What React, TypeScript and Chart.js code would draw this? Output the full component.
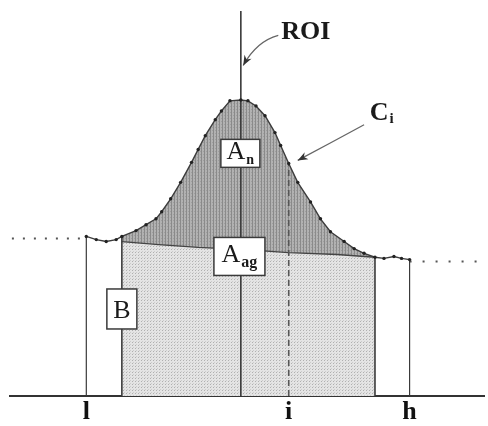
import React, { useEffect, useRef } from "react";
import { Chart, registerables } from "chart.js";

Chart.register(...registerables);

// Profile curve C_i (channel position, intensity)
const curveX = [16.1, 18.2, 20.3, 22.4, 23.6, 26.6, 28.7, 30.8, 32.0, 33.9, 36.0, 38.3, 39.7, 41.2, 43.3, 44.6, 46.4, 48.7, 50.2, 51.9, 53.8, 55.9, 57.1, 58.8, 60.7, 63.4, 65.5, 67.6, 70.5, 72.6, 74.7, 77.0, 78.9, 81.0, 82.6, 84.3];
const curveY = [40.7, 39.9, 39.4, 39.9, 40.7, 42.2, 43.7, 45.2, 47.0, 50.3, 54.5, 59.6, 62.9, 66.4, 70.5, 72.7, 75.3, 75.5, 75.3, 74.0, 71.5, 67.2, 63.9, 59.3, 54.5, 49.5, 45.2, 41.9, 39.4, 37.6, 36.4, 35.4, 35.1, 35.6, 35.1, 34.8];

// Background (A_ag top)
const bgX = [23.6, 31.4, 39.7, 48.7, 58.8, 69.0, 77.0];
const bgY = [39.4, 38.6, 37.9, 37.4, 36.6, 36.1, 35.4];

// Key positions
const posL = 16.1;
const posLow = 23.6;
const posROI = 48.7;
const posI = 58.8;
const posHigh = 77.0;
const posH = 84.3;
const roiTop = 98.2;

// Outside baseline levels (dotted)
const leftDotX = [0.4, 16.1];
const leftDotY = [40.2, 40.2];
const rightDotX = [84.3, 100];
const rightDotY = [34.3, 34.3];

// Tick labels
const tickValues = [posL, posI, posH];
const tickLabels = ["l", "i", "h"];

const SERIF = "'Liberation Serif', 'DejaVu Serif', serif";

function valAt(xs: number[], ys: number[], x: number) {
  const i = xs.indexOf(x);
  return ys[i];
}

function makePattern(kind: "dark" | "light") {
  const c = document.createElement("canvas");
  c.width = 3;
  c.height = 3;
  const g = c.getContext("2d")!;
  if (kind === "dark") {
    g.fillStyle = "#b2b2b2";
    g.fillRect(0, 0, 3, 3);
    g.fillStyle = "#8a8a8a";
    g.fillRect(0, 0, 1, 3);
    g.fillStyle = "#9e9e9e";
    g.fillRect(2, 1, 1, 1);
  } else {
    g.fillStyle = "#e4e4e4";
    g.fillRect(0, 0, 3, 3);
    g.fillStyle = "#b0b0b0";
    g.fillRect(0, 0, 1, 1);
    g.fillStyle = "#cccccc";
    g.fillRect(1, 2, 1, 1);
  }
  return g.createPattern(c, "repeat")!;
}

function vline(x: number, top: number, color: string, width: number, dash: number[] = []) {
  return {
    data: [
      { x, y: 0 },
      { x, y: top },
    ],
    borderColor: color,
    borderWidth: width,
    borderDash: dash,
    pointRadius: 0,
    fill: false,
    order: 2,
  };
}

const boxes = [
  { main: "A", sub: "n", x: 48.6, y: 61.9, w: 39, h: 28, mainSize: 26, subSize: 14 },
  { main: "A", sub: "ag", x: 48.4, y: 35.6, w: 51, h: 38, mainSize: 26, subSize: 16 },
  { main: "B", sub: "", x: 23.6, y: 22.2, w: 30, h: 40, mainSize: 26, subSize: 14 },
];

const overlayPlugin = {
  id: "overlay",
  afterDatasetsDraw(chart: any) {
    const { ctx, scales } = chart;
    const px = (v: number) => scales.x.getPixelForValue(v);
    const py = (v: number) => scales.y.getPixelForValue(v);
    ctx.save();

    // boxes
    for (const b of boxes) {
      const cx = px(b.x);
      const cy = py(b.y);
      ctx.fillStyle = "#ffffff";
      ctx.fillRect(cx - b.w / 2, cy - b.h / 2, b.w, b.h);
      ctx.strokeStyle = "#3a3a3a";
      ctx.lineWidth = 1.5;
      ctx.strokeRect(cx - b.w / 2, cy - b.h / 2, b.w, b.h);
      ctx.font = `${b.mainSize}px ${SERIF}`;
      const mw = ctx.measureText(b.main).width;
      ctx.font = `bold ${b.subSize}px ${SERIF}`;
      const sw = b.sub ? ctx.measureText(b.sub).width + 1 : 0;
      const sx = cx - (mw + sw) / 2;
      const base = cy + b.mainSize * 0.33 - (b.sub ? 3 : 0);
      ctx.fillStyle = "#1a1a1a";
      ctx.textBaseline = "alphabetic";
      ctx.textAlign = "left";
      ctx.font = `${b.mainSize}px ${SERIF}`;
      ctx.fillText(b.main, sx, base);
      if (b.sub) {
        ctx.font = `bold ${b.subSize}px ${SERIF}`;
        ctx.fillText(b.sub, sx + mw + 1, base + 5);
      }
    }

    // ROI label and curved arrow
    ctx.fillStyle = "#1a1a1a";
    ctx.font = `bold 26px ${SERIF}`;
    ctx.textBaseline = "middle";
    ctx.textAlign = "left";
    ctx.fillText("ROI", px(57.2), py(92.9));

    const drawArrow = (x0: number, y0: number, cx: number, cy: number, x1: number, y1: number) => {
      ctx.strokeStyle = "#666";
      ctx.lineWidth = 1.3;
      ctx.beginPath();
      ctx.moveTo(x0, y0);
      ctx.quadraticCurveTo(cx, cy, x1, y1);
      ctx.stroke();
      const ang = Math.atan2(y1 - cy, x1 - cx);
      const L = 10;
      const W = 4;
      ctx.fillStyle = "#333";
      ctx.beginPath();
      ctx.moveTo(x1, y1);
      ctx.lineTo(x1 - L * Math.cos(ang) + W * Math.sin(ang), y1 - L * Math.sin(ang) - W * Math.cos(ang));
      ctx.lineTo(x1 - L * Math.cos(ang) * 0.7, y1 - L * Math.sin(ang) * 0.7);
      ctx.lineTo(x1 - L * Math.cos(ang) - W * Math.sin(ang), y1 - L * Math.sin(ang) + W * Math.cos(ang));
      ctx.closePath();
      ctx.fill();
    };

    drawArrow(px(56.6), py(92.0), px(52.0), py(90.5), px(49.2), py(84.3));

    // C_i label and arrow
    ctx.fillStyle = "#1a1a1a";
    ctx.font = `bold 26px ${SERIF}`;
    ctx.textBaseline = "middle";
    ctx.fillText("C", px(75.9), py(72.2));
    const cw = ctx.measureText("C").width;
    ctx.font = `bold 15px ${SERIF}`;
    ctx.fillText("i", px(75.9) + cw + 1, py(72.2) + 6);

    drawArrow(px(74.7), py(69.2), px(67.7), py(64.6), px(60.7), py(60.1));

    ctx.restore();
  },
};

export default function App() {
  const ref = useRef<HTMLCanvasElement | null>(null);

  useEffect(() => {
    const canvas = ref.current;
    if (!canvas) return;
    const darkPattern = makePattern("dark");
    const lightPattern = makePattern("light");

    const curvePts = curveX.map((x, i) => ({ x, y: curveY[i] }));
    const roiPts = curvePts.filter((p) => p.x >= posLow && p.x <= posHigh);
    const bgPts = bgX.map((x, i) => ({ x, y: bgY[i] }));

    const chart = new Chart(canvas, {
      type: "line",
      data: {
        datasets: [
          {
            data: roiPts,
            borderWidth: 0,
            borderColor: "rgba(0,0,0,0)",
            backgroundColor: darkPattern,
            pointRadius: 0,
            fill: "origin",
            order: 10,
          },
          {
            data: bgPts,
            borderColor: "#444",
            borderWidth: 1.3,
            backgroundColor: lightPattern,
            pointRadius: 0,
            fill: "origin",
            order: 9,
          },
          vline(posL, valAt(curveX, curveY, posL), "#3a3a3a", 1.2),
          vline(posLow, valAt(curveX, curveY, posLow), "#3a3a3a", 1.6),
          vline(posHigh, valAt(curveX, curveY, posHigh), "#3a3a3a", 1.6),
          vline(posH, valAt(curveX, curveY, posH), "#3a3a3a", 1.2),
          vline(posROI, roiTop, "#3a3a3a", 1.6),
          vline(posI, valAt(curveX, curveY, posI), "#555", 1.6, [6, 4]),
          {
            data: leftDotX.map((x, i) => ({ x, y: leftDotY[i] })),
            borderColor: "#555",
            borderWidth: 2,
            borderDash: [2, 9],
            pointRadius: 0,
            fill: false,
            order: 2,
          },
          {
            data: rightDotX.map((x, i) => ({ x, y: rightDotY[i] })),
            borderColor: "#555",
            borderWidth: 2,
            borderDash: [2, 11],
            pointRadius: 0,
            fill: false,
            order: 2,
          },
          {
            data: curvePts,
            borderColor: "#3c3c3c",
            borderWidth: 1.4,
            pointRadius: 1.7,
            pointBackgroundColor: "#222",
            pointBorderWidth: 0,
            fill: false,
            tension: 0,
            order: 1,
          },
        ],
      },
      options: {
        responsive: false,
        animation: false,
        layout: { padding: { left: 10, right: 0, top: 0, bottom: -3 } },
        plugins: {
          legend: { display: false },
          tooltip: { enabled: false },
        },
        scales: {
          x: {
            type: "linear",
            min: 0,
            max: 100,
            position: "bottom",
            grid: { display: false, drawTicks: false },
            border: { display: true, color: "#333", width: 2 },
            afterBuildTicks: (scale: any) => {
              scale.ticks = tickValues.map((v) => ({ value: v }));
            },
            ticks: {
              padding: 3.5,
              color: "#111",
              font: { family: SERIF, size: 26, weight: "bold", lineHeight: 1 },
              autoSkip: false,
              maxRotation: 0,
              callback: (v: any) => {
                const i = tickValues.indexOf(Number(v));
                return i >= 0 ? tickLabels[i] : "";
              },
            },
          },
          y: {
            type: "linear",
            min: 0,
            max: 100,
            display: false,
          },
        },
      },
      plugins: [overlayPlugin],
    });

    return () => chart.destroy();
  }, []);

  return (
    <div style={{ position: "absolute", left: 0, top: 0, width: 488, height: 426, background: "#fff" }}>
      <canvas ref={ref} width={488} height={426} style={{ display: "block" }} />
    </div>
  );
}
